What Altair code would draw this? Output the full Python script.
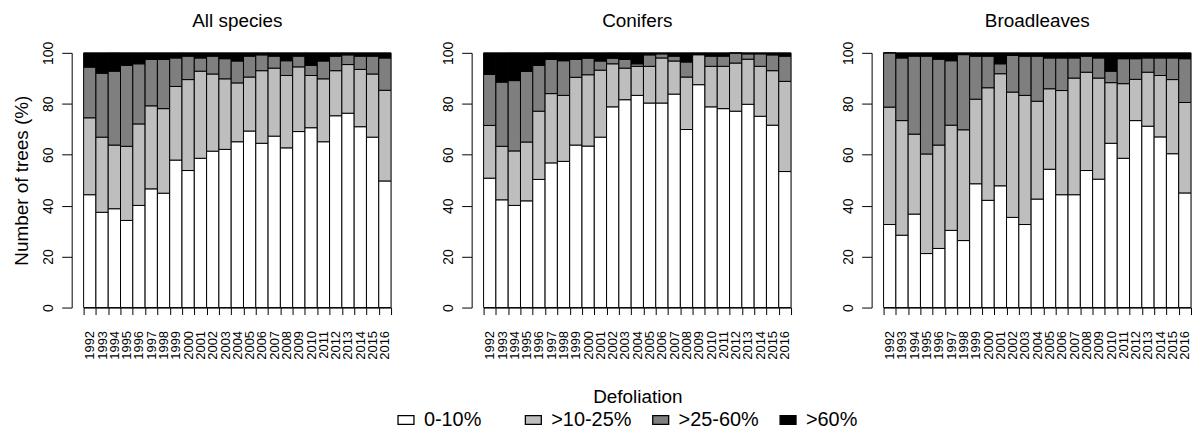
import altair as alt
import pandas as pd

years = ["1992", "1993", "1994", "1995", "1996", "1997", "1998", "1999", "2000",
         "2001", "2002", "2003", "2004", "2005", "2006", "2007", "2008", "2009",
         "2010", "2011", "2012", "2013", "2014", "2015", "2016"]

classes = ["0-10%", ">10-25%", ">25-60%", ">60%"]
colors = ["#ffffff", "#bebebe", "#7f7f7f", "#000000"]

# cumulative % of trees with defoliation <=10%, <=25%, <=60%
all_le10 = [44.3, 37.4, 38.8, 34.2, 40.1, 46.6, 44.9, 57.9, 53.8, 58.6, 61.4, 62.1, 65.1,
            69.3, 64.5, 67.3, 62.7, 69.1, 70.6, 65.1, 75.3, 76.3, 71.0, 66.9, 49.7]
all_le25 = [74.5, 66.9, 63.8, 63.3, 72.1, 79.2, 78.1, 86.8, 89.5, 92.8, 91.7, 89.8, 88.2,
            90.5, 93.0, 94.0, 91.1, 94.5, 91.1, 89.8, 93.0, 95.4, 93.5, 91.7, 85.3]
all_le60 = [94.4, 92.0, 92.8, 95.1, 95.7, 97.4, 97.4, 98.0, 98.7, 98.0, 98.7, 97.7, 96.8,
            98.7, 99.2, 98.7, 96.9, 98.7, 95.1, 96.8, 98.7, 99.2, 98.7, 98.7, 98.0]

con_le10 = [50.8, 42.3, 40.1, 41.9, 50.3, 56.8, 57.4, 63.8, 63.4, 66.9, 78.8, 81.6, 83.3,
            80.3, 80.3, 83.8, 69.9, 87.5, 78.8, 78.1, 77.1, 79.8, 75.1, 71.6, 53.4]
con_le25 = [71.5, 63.3, 61.5, 65.0, 77.1, 84.0, 83.3, 90.4, 91.4, 93.2, 95.7, 94.0, 94.7,
            94.7, 98.0, 96.8, 90.5, 99.3, 94.7, 94.7, 96.0, 97.5, 94.7, 93.0, 88.8]
con_le60 = [91.5, 88.5, 89.1, 92.7, 95.1, 97.4, 96.9, 97.4, 97.9, 96.8, 97.9, 97.4, 95.7,
            99.2, 99.6, 98.7, 96.4, 99.3, 98.7, 98.7, 99.9, 99.6, 99.6, 99.2, 98.7]

bro_le10 = [32.6, 28.4, 36.7, 21.2, 23.2, 30.3, 26.3, 48.6, 42.1, 47.8, 35.4, 32.6, 42.6,
            54.3, 44.3, 44.3, 53.8, 50.4, 64.5, 58.6, 73.4, 71.2, 67.0, 60.4, 45.0]
bro_le25 = [78.7, 73.4, 68.1, 60.3, 63.8, 71.6, 69.8, 81.8, 86.3, 91.8, 84.6, 83.3, 81.0,
            85.9, 85.2, 90.1, 92.4, 90.1, 88.3, 87.9, 89.6, 92.4, 91.1, 89.5, 80.5]
bro_le60 = [100.0, 98.0, 98.7, 98.7, 97.5, 96.9, 99.3, 98.7, 98.7, 95.7, 99.0, 98.7, 98.7,
            98.0, 98.0, 98.0, 98.7, 98.0, 92.8, 97.7, 97.7, 98.0, 98.0, 98.0, 97.7]

FONT = "Liberation Sans"

legend = alt.Legend(
    title=None, orient="none", legendX=314, legendY=359,
    direction="horizontal", columns=4, gridAlign="all", columnPadding=18,
    symbolType="M-1,-0.55H1V0.55H-1Z", symbolSize=256,
    symbolStrokeColor="black", symbolStrokeWidth=1.3,
    labelFontSize=20, labelFont=FONT, labelColor="black", labelOffset=8,
    padding=0,
)


def panel(name, le10, le25, le60, first, xtitle=None):
    rows = []
    for i, yr in enumerate(years):
        b = [0, le10[i], le25[i], le60[i], 100]
        for k, cl in enumerate(classes):
            rows.append({"year": yr, "cls": cl, "lo": b[k], "hi": b[k + 1]})
    df = pd.DataFrame(rows)
    yax = dict(values=[0, 20, 40, 60, 80, 100], offset=12, tickSize=10,
               labelAngle=270, labelAlign="center", labelBaseline="bottom",
               labelPadding=6, labelFontSize=14, labelFont=FONT, labelColor="black",
               domainColor="black", tickColor="black", grid=False,
               titleFontSize=19, titleFont=FONT, titleFontWeight="normal",
               titleColor="black", titlePadding=10)
    yax["title"] = "Number of trees (%)" if first else None
    # the legend heading "Defoliation" sits centred under the middle panel
    xax = alt.Axis(title=xtitle, labelAngle=270, labelFontSize=13, labelFont=FONT,
                   labelColor="black", tickBand="extent", tickSize=7, labelPadding=16,
                   domainColor="black", tickColor="black", grid=False,
                   titleFontSize=19, titleFont=FONT, titleFontWeight="normal",
                   titleColor="black", titlePadding=29)
    return alt.Chart(df).mark_bar(stroke="black", strokeWidth=1).encode(
        x=alt.X("year:O", sort=years, scale=alt.Scale(paddingInner=0, paddingOuter=0), axis=xax),
        y=alt.Y("lo:Q", scale=alt.Scale(domain=[0, 100], nice=False), axis=alt.Axis(**yax)),
        y2="hi:Q",
        color=alt.Color("cls:N", scale=alt.Scale(domain=classes, range=colors), legend=legend),
    ).properties(
        width=309, height=256,
        title=alt.Title(name, fontSize=19, font=FONT, fontWeight="normal", color="black",
                        anchor="middle", frame="group", offset=10),
    )


chart = alt.hconcat(
    panel("All species", all_le10, all_le25, all_le60, True),
    panel("Conifers", con_le10, con_le25, con_le60, False, xtitle="Defoliation"),
    panel("Broadleaves", bro_le10, bro_le25, bro_le60, False),
    spacing=48,
).properties(
    padding={"left": 4, "top": 2, "right": 0, "bottom": 0},
).configure_view(stroke=None).configure(font=FONT, background="white")

chart.save("out.html", embed_options={"renderer": "svg", "actions": False})
